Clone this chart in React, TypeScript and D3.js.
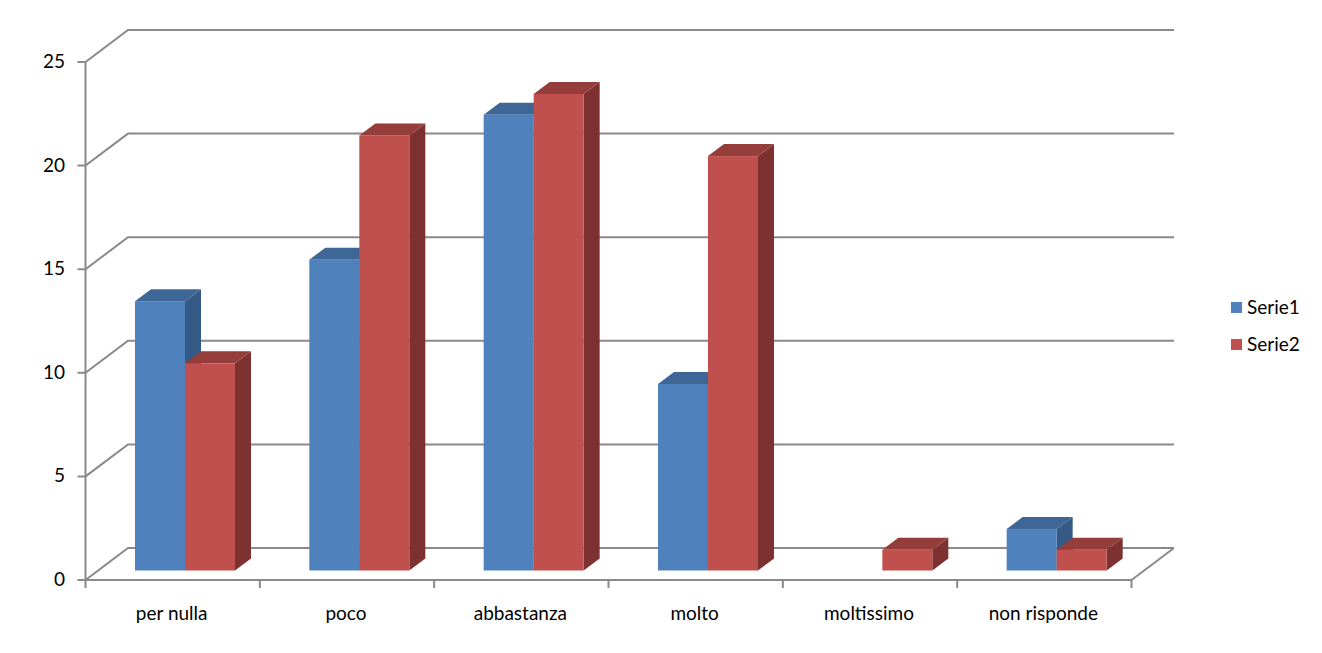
import React from "react";
import * as d3 from "d3";

const categories = ["per nulla", "poco", "abbastanza", "molto", "moltissimo", "non risponde"];
const serie1 = [13, 15, 22, 9, 0, 2];
const serie2 = [10, 21, 23, 20, 1, 1];
const yTicks = [0, 5, 10, 15, 20, 25];
const seriesNames = ["Serie1", "Serie2"];
const front = ["#4F81BD", "#C0504D"];
const topFace = ["#3E6797", "#943D3A"];
const sideFace = ["#355A86", "#7D3231"];
const grid = "#8A8A8A";
const font = "Lato, Carlito, sans-serif";

const W = 1322, H = 653;
const y = d3.scaleLinear().domain([0, 25]).range([580, 62]);
const x = d3.scaleBand<string>().domain(categories).range([85.5, 1131.5]);
const inner = d3.scaleBand<number>().domain([0, 1]).range([50, 150]);
const wallDx = 42.5, wallDy = -32;
const barDx = 16, barDy = -12, floorDy = -9.5;

const poly = (pts: [number, number][]) => d3.line()(pts) + "Z";
const path = (pts: [number, number][]) => d3.line()(pts) as string;

export default function App() {
  const series = [serie1, serie2];
  const x0 = x.range()[0], x1 = x.range()[1];
  const edges = [x0, ...categories.map((c) => (x(c) as number) + x.bandwidth())];
  return (
    <svg width={W} height={H} style={{ position: "absolute", left: 0, top: 0, background: "#fff" }}>
      {yTicks.map((t) => (
        <g key={t}>
          <path d={path([[x0 - 8, y(t)], [x0, y(t)], [x0 + wallDx, y(t) + wallDy], [x1 + wallDx, y(t) + wallDy]])}
            fill="none" stroke={grid} strokeWidth={2} />
          <text x={65} y={y(t) + 6} textAnchor="end" fontFamily={font} fontSize={19} fill="#000">{t}</text>
        </g>
      ))}
      <path d={path([[x0, y(0)], [x0, y(25)]])} stroke={grid} strokeWidth={2} fill="none" />
      <path d={path([[x0, y(0)], [x1, y(0)], [x1 + wallDx, y(0) + wallDy]])} stroke={grid} strokeWidth={2} fill="none" />
      {edges.map((e, i) => (
        <path key={i} d={path([[e, y(0)], [e, y(0) + 8]])} stroke={grid} strokeWidth={2} fill="none" />
      ))}
      {categories.map((c, i) => (
        <g key={c}>
          {series.map((s, k) => {
            const v = s[i];
            if (!v) return null;
            const bx = (x(c) as number) + (inner(k) as number) - 0.5;
            const bw = inner.bandwidth();
            const by0 = y(0) + floorDy;
            const by1 = y(v) + floorDy;
            return (
              <g key={k}>
                <path d={poly([[bx + bw, by1], [bx + bw + barDx, by1 + barDy], [bx + bw + barDx, by0 + barDy], [bx + bw, by0]])} fill={sideFace[k]} />
                <path d={poly([[bx, by1], [bx + barDx, by1 + barDy], [bx + bw + barDx, by1 + barDy], [bx + bw, by1]])} fill={topFace[k]} />
                <rect x={bx} y={by1} width={bw} height={by0 - by1} fill={front[k]} />
              </g>
            );
          })}
          <text x={(x(c) as number) + x.bandwidth() / 2 - 1} y={620} textAnchor="middle" fontFamily={font} fontSize={19} fill="#000">{c}</text>
        </g>
      ))}
      {seriesNames.map((n, k) => (
        <g key={n}>
          <rect x={1231} y={302 + k * 37} width={11} height={11} fill={front[k]} />
          <text x={1247} y={314 + k * 37} fontFamily={font} fontSize={19} fill="#000">{n}</text>
        </g>
      ))}
    </svg>
  );
}
